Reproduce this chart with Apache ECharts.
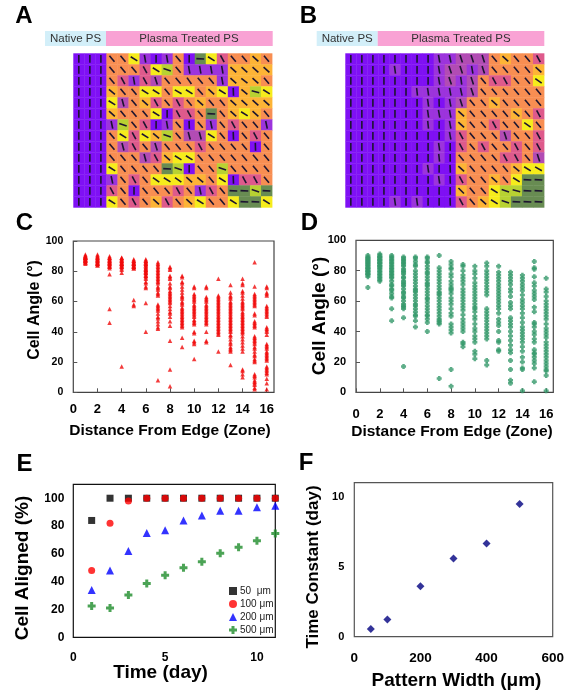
<!DOCTYPE html>
<html><head><meta charset="utf-8">
<script src="https://cdn.jsdelivr.net/npm/echarts@6/dist/echarts.min.js"></script>
<style>html,body{margin:0;padding:0;background:#fff}#c{width:570px;height:699px}</style>
</head><body><div id="c"></div>
<script>
// ---------- DATA ----------
// Panel A: cell angle (deg) per zone, 14 rows x 18 columns
const heatA = [
 [90,90,90,50,50,32,80,90,80,50,90,3,32,62,50,50,42,50],
 [90,90,90,50,50,50,62,32,18,50,80,80,80,80,42,42,42,42],
 [90,90,90,50,62,80,62,72,50,50,55,50,50,80,42,38,42,50],
 [90,90,90,40,50,50,32,32,50,30,32,48,42,32,88,40,15,32],
 [90,90,90,32,75,50,42,62,50,62,50,42,50,50,42,42,42,42],
 [90,90,90,42,50,50,50,32,90,62,62,50,3,50,42,32,42,50],
 [90,90,90,78,18,50,62,90,80,50,88,50,78,50,62,50,50,78],
 [90,90,90,50,32,62,32,40,18,50,75,75,32,50,88,50,62,50],
 [90,90,90,50,75,62,50,72,50,50,50,62,50,50,50,50,88,50],
 [90,90,90,50,50,50,75,62,42,32,32,50,50,50,50,50,50,50],
 [90,90,90,32,50,50,50,50,3,18,90,50,50,18,50,50,50,50],
 [90,90,90,78,50,62,50,35,32,35,42,40,50,32,88,62,62,50],
 [90,90,90,62,50,90,50,50,50,62,50,78,62,50,3,3,18,3],
 [90,90,90,32,50,62,50,42,62,50,42,32,50,50,32,3,3,32]
];
// Panel B
const heatB = [
 [90,90,90,90,90,90,90,90,80,78,72,72,72,50,42,50,50,62],
 [90,90,90,90,82,90,90,90,80,72,72,80,72,50,50,50,50,42],
 [90,90,90,90,90,90,90,90,80,72,82,72,50,62,62,50,50,35],
 [90,90,90,90,90,90,84,82,80,80,78,72,50,50,50,50,50,50],
 [90,90,90,90,90,90,90,82,88,80,72,50,50,42,50,50,50,50],
 [90,90,90,90,90,90,90,82,80,80,42,50,50,50,50,40,50,62],
 [90,90,90,90,90,90,90,84,90,80,42,50,50,62,50,50,35,50],
 [90,90,90,90,90,90,90,90,90,80,62,50,50,50,72,50,50,62],
 [90,90,90,90,90,90,90,90,82,90,62,50,62,50,50,62,50,62],
 [90,90,90,90,90,90,90,90,84,90,50,50,50,50,62,62,50,72],
 [90,90,90,90,90,90,90,82,90,88,42,50,50,50,50,40,32,30],
 [90,90,90,90,90,90,90,90,82,88,62,50,50,42,50,32,3,3],
 [90,90,90,90,90,90,90,90,90,90,45,50,50,32,18,15,3,3],
 [90,90,90,90,82,90,82,90,90,88,62,50,42,32,18,3,3,3]
];
// Panel C: cell angles per zone 1..16
const zonesC = [
 [85,86,86,87,87,88,88,88,89,89,89,90,90,90,91,87,88,86,89,90],
 [84,84,85,85,86,86,87,87,88,88,89,89,90,90,91,86,88,85],
 [82,83,83,84,85,85,86,86,87,87,88,88,89,89,90,84,86,78,55,46],
 [81,82,83,84,84,85,85,86,86,87,87,88,88,89,89,83,85,79,17],
 [82,82,83,83,84,84,85,85,86,86,87,87,88,83,85,61,58,57],
 [75,76,77,78,79,80,80,81,82,82,83,84,84,85,85,86,86,87,87,88,81,79,77,73,72,70,69,59,40],
 [86,85,84,83,82,81,80,79,78,77,76,75,74,73,72,70,69,68,66,65,64,58,57,56,55,54,52,50,49,47,45,43,42,8],
 [83,82,81,77,76,75,72,70,69,67,66,65,64,63,62,61,60,59,57,55,53,52,50,47,44,34,15,4],
 [77,76,73,72,70,68,66,64,63,62,60,59,58,56,55,54,53,52,51,50,49,48,47,46,45,44,43,36,30],
 [70,69,65,64,63,62,61,60,58,57,56,55,54,53,52,51,50,48,47,46,45,40,39,34,33,32,22],
 [70,69,63,62,61,60,58,57,56,55,54,53,52,51,50,49,48,47,46,45,40,34,33],
 [75,64,63,62,61,60,59,58,57,56,55,54,53,52,51,50,49,48,47,46,45,44,43,42,41,40,39,38,27],
 [71,66,64,63,62,60,59,58,57,56,55,54,53,52,51,50,49,48,47,46,45,44,43,42,41,40,38,37,35,33,32,30,29,28,27,18],
 [75,72,71,67,66,64,62,60,59,58,57,56,55,53,52,51,50,49,48,47,46,45,44,43,42,41,40,39,37,35,33,31,29,27,15,14,12,10],
 [86,70,65,64,63,62,61,60,59,58,57,52,51,47,46,45,44,43,37,36,35,34,33,32,30,29,27,25,24,22,21,20,12,11,10,8,7,6,5,3,2],
 [70,69,66,65,64,57,56,55,54,53,52,51,50,43,42,41,40,38,32,31,30,29,27,26,25,24,23,22,21,17,16,15,14,13,12,9,6,2]
];
// Panel D
const zonesD = [
 [90,89,88,87,86,85,84,83,82,81,80,79,78,77,76,88,86,84,82,80,78,69],
 [91,90,89,88,87,86,85,84,83,82,81,80,79,78,77,76,75,74,73,89,87,85,83],
 [90,89,88,87,86,85,84,83,82,81,80,79,78,77,76,75,73,71,70,68,67,65,63,62,55,47],
 [89,88,87,86,85,84,83,81,80,79,78,76,75,73,72,71,70,68,66,65,63,62,60,58,57,56,55,49,17],
 [89,88,86,84,83,80,78,76,74,72,70,68,67,66,64,62,60,58,57,55,53,51,50,47,43],
 [89,88,86,85,83,81,79,78,76,74,72,71,70,68,66,64,62,61,59,57,55,53,51,50,48,46,40],
 [90,82,80,78,76,74,72,70,68,66,65,64,62,60,58,56,54,52,50,48,47,46,45,9],
 [86,84,82,81,78,76,73,71,69,68,67,65,62,60,58,55,52,50,45,43,41,39,15,4],
 [84,83,80,77,75,73,71,68,66,64,62,60,58,56,54,51,48,46,44,42,40,33,32,30],
 [83,80,78,75,72,70,68,66,64,62,60,58,56,55,53,50,48,45,42,40,37,35,33,27,25,22],
 [85,83,80,78,76,74,72,70,68,66,64,55,53,51,49,47,45,43,41,39,37,35,21,18],
 [83,79,77,75,73,71,69,67,65,63,61,59,57,55,52,48,46,44,40,34,33,28,27],
 [79,77,75,73,71,68,66,63,59,57,55,49,47,45,43,40,37,34,31,28,26,21,15,8,6],
 [77,75,73,71,69,67,64,61,59,57,55,52,49,46,43,41,39,37,35,33,30,27,23,20,16,15,1],
 [86,82,81,76,72,70,67,65,63,61,56,53,46,45,43,40,38,35,33,28,26,25,23,21,19,16,7],
 [75,68,66,63,60,58,56,54,52,50,48,45,42,40,38,36,33,31,29,27,25,23,21,19,17,15,14,11,1]
];
// Panel E: % cells aligned vs day
const days = [1,2,3,4,5,6,7,8,9,10,11];
const e50  = [84,100,100,100,100,100,100,100,100,100,100];
const e100 = [48,82,98,100,100,100,100,100,100,100,100];
const e200 = [34,48,62,75,77,84,87.5,91,91,93.5,94.5];
const e500 = [22.5,21,30.5,38.6,44.6,50,54.4,60.4,64.7,69.5,74.6];
const seriesNamesE = ['50  μm','100 μm','200 μm','500 μm'];
// Panel F
const patternWidth = [50,100,200,300,400,500];
const timeConstant = [0.55,1.22,3.6,5.58,6.66,9.47];

// ---------- CHART ----------
const FF = 'Arial, "Liberation Sans", Helvetica, sans-serif';
const chart = echarts.init(document.getElementById('c'), null, {renderer:'canvas'});

function angleColor(a){
  if (a >= 86) return '#7f10f4';
  if (a >= 78) return '#9c34dc';
  if (a >= 70) return '#b24cb4';
  if (a >= 58) return '#de5a8c';
  if (a >= 46) return '#f88e52';
  if (a >= 36) return '#fdb436';
  if (a >= 25) return '#f6ec1c';
  if (a >= 10) return '#b8d232';
  return '#688c52';
}
function heatData(m){
  const out=[];
  m.forEach((row,r)=>row.forEach((a,c)=>out.push([c,r,a])));
  return out;
}
function cellRender(params, api){
  const c = api.coord([api.value(0), api.value(1)]);
  const s = api.size([1,1]);
  const a = api.value(2);
  const r = a*Math.PI/180, L = 3.9;
  const dx = Math.cos(r)*L, dy = Math.sin(r)*L;
  return {type:'group', children:[
    {type:'rect', shape:{x:c[0]-s[0]/2, y:c[1]-s[1]/2, width:s[0]+0.4, height:s[1]+0.4}, style:{fill:angleColor(a)}},
    {type:'line', shape:{x1:c[0]-dx, y1:c[1]-dy, x2:c[0]+dx, y2:c[1]+dy}, style:{stroke:'#1d1530', lineWidth:1.6}}
  ]};
}
const cols = Array.from({length:18},(_,i)=>i);
const rows = Array.from({length:14},(_,i)=>i);

function lab(size, margin, extra){
  return Object.assign({fontSize:size, fontWeight:'bold', color:'#000', fontFamily:FF, margin:margin, showMaxLabel:false}, extra||{});
}
const tickIn = {show:true, inside:true, length:4, lineStyle:{color:'#555', width:1}};

const gridBase = {outerBoundsMode:'none', containLabel:false};
const option = {
  animation:false,
  backgroundColor:'#fff',
  grid:[
    Object.assign({left:73.3, top:53.3, width:198.7, height:154, show:false}, gridBase),
    Object.assign({left:345.3, top:53.3, width:198.7, height:154, show:false}, gridBase),
    Object.assign({left:73.3, top:241, width:200.7, height:151.3, show:true, borderColor:'#444', borderWidth:1.2, backgroundColor:'transparent'}, gridBase),
    Object.assign({left:356, top:240.3, width:197.3, height:152, show:true, borderColor:'#444', borderWidth:1.2, backgroundColor:'transparent'}, gridBase),
    Object.assign({left:73.3, top:484.3, width:202, height:153, show:true, borderColor:'#111', borderWidth:1.2, backgroundColor:'transparent'}, gridBase),
    Object.assign({left:354.3, top:482.7, width:198.4, height:154, show:true, borderColor:'#555', borderWidth:1.2, backgroundColor:'transparent'}, gridBase)
  ],
  xAxis:[
    {type:'category', gridIndex:0, data:cols, show:false},
    {type:'category', gridIndex:1, data:cols, show:false},
    {type:'value', gridIndex:2, min:0, max:16.6, interval:2, axisLine:{show:false}, splitLine:{show:false}, axisTick:tickIn, axisLabel:lab(13,11)},
    {type:'value', gridIndex:3, min:0, max:16.6, interval:2, axisLine:{show:false}, splitLine:{show:false}, axisTick:tickIn, axisLabel:lab(13,16)},
    {type:'value', gridIndex:4, min:0, max:11, interval:5, axisLine:{show:false}, splitLine:{show:false}, axisTick:{show:false}, axisLabel:lab(12,14)},
    {type:'value', gridIndex:5, min:0, max:600, interval:200, axisLine:{show:false}, splitLine:{show:false}, axisTick:{show:false}, axisLabel:lab(13.5,15,{showMaxLabel:true})}
  ],
  yAxis:[
    {type:'category', gridIndex:0, data:rows, inverse:true, show:false},
    {type:'category', gridIndex:1, data:rows, inverse:true, show:false},
    {type:'value', gridIndex:2, min:0, max:100, interval:20, axisLine:{show:false}, splitLine:{show:false}, axisTick:tickIn, axisLabel:lab(10.5,10,{showMaxLabel:true})},
    {type:'value', gridIndex:3, min:0, max:100, interval:20, axisLine:{show:false}, splitLine:{show:false}, axisTick:tickIn, axisLabel:lab(11,10,{showMaxLabel:true})},
    {type:'value', gridIndex:4, min:0, max:110, interval:20, axisLine:{show:false}, splitLine:{show:false}, axisTick:{show:false}, axisLabel:lab(12,9)},
    {type:'value', gridIndex:5, min:0, max:11, interval:5, axisLine:{show:false}, splitLine:{show:false}, axisTick:{show:false}, axisLabel:lab(11,10)}
  ],
  legend:{
    orient:'vertical', left:224, top:581, itemWidth:8, itemHeight:8, itemGap:3,
    selectedMode:false, data:seriesNamesE,
    textStyle:{fontSize:10, color:'#222', fontFamily:FF, padding:[0,0,0,-2]}
  },
  series:[
    {type:'custom', xAxisIndex:0, yAxisIndex:0, renderItem:cellRender, data:heatData(heatA), silent:true},
    {type:'custom', xAxisIndex:1, yAxisIndex:1, renderItem:cellRender, data:heatData(heatB), silent:true},
    {type:'scatter', xAxisIndex:2, yAxisIndex:2, symbol:'triangle', symbolSize:4.5, itemStyle:{color:'#f00a0a'},
      data:zonesC.flatMap((arr,i)=>arr.map(v=>[i+1,v])), clip:false},
    {type:'scatter', xAxisIndex:3, yAxisIndex:3, symbol:'path://M1.5,0H4.5V1.5H6V4.5H4.5V6H1.5V4.5H0V1.5H1.5Z', symbolSize:5, itemStyle:{color:'#34996a'},
      data:zonesD.flatMap((arr,i)=>arr.map(v=>[i+1,v])), clip:false},
    {name:seriesNamesE[0], type:'scatter', xAxisIndex:4, yAxisIndex:4, symbol:'rect', symbolSize:7, itemStyle:{color:'#000'},
      data:days.map((d,i)=>[d,e50[i]]), clip:false},
    {name:seriesNamesE[1], type:'scatter', xAxisIndex:4, yAxisIndex:4, symbol:'circle', symbolSize:7, itemStyle:{color:'#ff0000'},
      data:days.map((d,i)=>[d,e100[i]]), clip:false},
    {name:seriesNamesE[2], type:'scatter', xAxisIndex:4, yAxisIndex:4, symbol:'triangle', symbolSize:8, itemStyle:{color:'#0000ff'},
      data:days.map((d,i)=>[d,e200[i]]), clip:false},
    {name:seriesNamesE[3], type:'scatter', xAxisIndex:4, yAxisIndex:4, symbol:'path://M2.5,0H5.5V2.5H8V5.5H5.5V8H2.5V5.5H0V2.5H2.5Z', symbolSize:8, itemStyle:{color:'#1e8c2a'},
      data:days.map((d,i)=>[d,e500[i]]), clip:false},
    {type:'scatter', xAxisIndex:5, yAxisIndex:5, symbol:'diamond', symbolSize:8, itemStyle:{color:'#000080'},
      data:patternWidth.map((w,i)=>[w,timeConstant[i]]), clip:false}
  ],
  graphic:[
    // panel letters
    {type:'text', x:24, y:16.5, style:{text:'A', font:'bold 24px '+FF, fill:'#000', align:'center', verticalAlign:'middle'}},
    {type:'text', x:308.5, y:16.5, style:{text:'B', font:'bold 24px '+FF, fill:'#000', align:'center', verticalAlign:'middle'}},
    {type:'text', x:24.5, y:223.5, style:{text:'C', font:'bold 24px '+FF, fill:'#000', align:'center', verticalAlign:'middle'}},
    {type:'text', x:309.5, y:223.5, style:{text:'D', font:'bold 24px '+FF, fill:'#000', align:'center', verticalAlign:'middle'}},
    {type:'text', x:24.5, y:464, style:{text:'E', font:'bold 24px '+FF, fill:'#000', align:'center', verticalAlign:'middle'}},
    {type:'text', x:306, y:463.5, style:{text:'F', font:'bold 24px '+FF, fill:'#000', align:'center', verticalAlign:'middle'}},
    // headers A
    {type:'rect', shape:{x:45, y:31, width:61, height:15}, style:{fill:'#d3eff9'}},
    {type:'rect', shape:{x:106, y:31, width:166.7, height:15}, style:{fill:'#f9a2d4'}},
    {type:'text', x:75.5, y:38.5, style:{text:'Native PS', font:'11.5px '+FF, fill:'#333', align:'center', verticalAlign:'middle'}},
    {type:'text', x:189, y:38.5, style:{text:'Plasma Treated PS', font:'11.5px '+FF, fill:'#333', align:'center', verticalAlign:'middle'}},
    // headers B
    {type:'rect', shape:{x:316.7, y:31, width:61, height:15}, style:{fill:'#d3eff9'}},
    {type:'rect', shape:{x:377.7, y:31, width:166.6, height:15}, style:{fill:'#f9a2d4'}},
    {type:'text', x:347.2, y:38.5, style:{text:'Native PS', font:'11.5px '+FF, fill:'#333', align:'center', verticalAlign:'middle'}},
    {type:'text', x:461, y:38.5, style:{text:'Plasma Treated PS', font:'11.5px '+FF, fill:'#333', align:'center', verticalAlign:'middle'}},
    // axis titles
    {type:'text', x:170, y:431, style:{text:'Distance From Edge (Zone)', font:'bold 15.5px '+FF, fill:'#000', align:'center', verticalAlign:'middle'}},
    {type:'text', x:35, y:310, rotation:Math.PI/2, style:{text:'Cell Angle (°)', font:'bold 16px '+FF, fill:'#000', align:'center', verticalAlign:'middle'}},
    {type:'text', x:452, y:432, style:{text:'Distance From Edge (Zone)', font:'bold 15.5px '+FF, fill:'#000', align:'center', verticalAlign:'middle'}},
    {type:'text', x:320, y:316, rotation:Math.PI/2, style:{text:'Cell Angle (°)', font:'bold 19px '+FF, fill:'#000', align:'center', verticalAlign:'middle'}},
    {type:'text', x:160.5, y:673, style:{text:'Time (day)', font:'bold 19px '+FF, fill:'#000', align:'center', verticalAlign:'middle'}},
    {type:'text', x:23, y:568, rotation:Math.PI/2, style:{text:'Cell Aligned (%)', font:'bold 19px '+FF, fill:'#000', align:'center', verticalAlign:'middle'}},
    {type:'text', x:456.5, y:681, style:{text:'Pattern Width (μm)', font:'bold 19px '+FF, fill:'#000', align:'center', verticalAlign:'middle'}},
    {type:'text', x:313, y:567, rotation:Math.PI/2, style:{text:'Time Constant (day)', font:'bold 17px '+FF, fill:'#000', align:'center', verticalAlign:'middle'}}
  ]
};
chart.setOption(option);
</script></body></html>
